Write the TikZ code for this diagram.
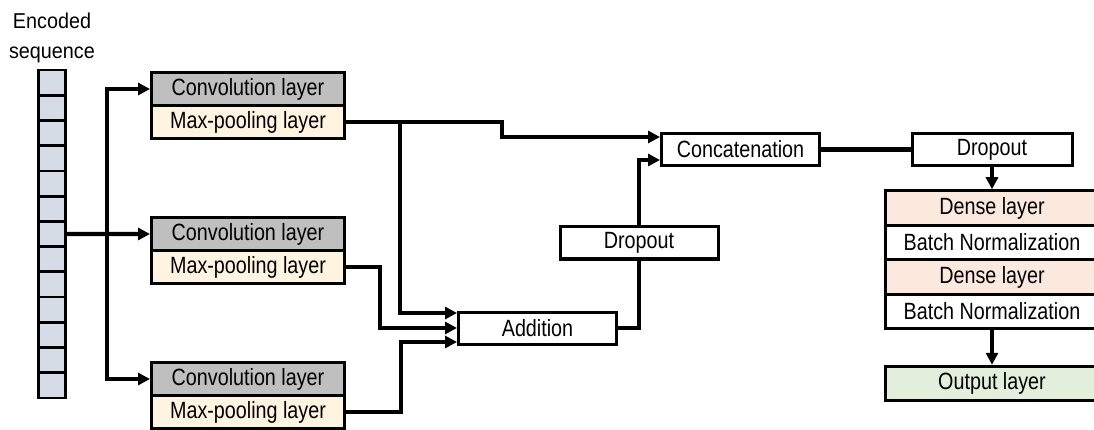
\documentclass[tikz,border=0pt]{standalone}
\usepackage{fontspec}
\setmainfont[FakeStretch=0.84]{Liberation Sans}
\newfontfamily\plainsans[FakeStretch=0.92]{Liberation Sans}
\usetikzlibrary{arrows.meta,calc}
\definecolor{seqfill}{HTML}{D6DCE5}
\definecolor{convfill}{HTML}{BFBFBF}
\definecolor{poolfill}{HTML}{FFF4DF}
\definecolor{densefill}{HTML}{FCE9DE}
\definecolor{outfill}{HTML}{E2EFDA}
\begin{document}
\begin{tikzpicture}[x=1pt,y=-1pt,
  lab/.style={font=\fontsize{23.5}{26}\selectfont},
  box/.style={lab,draw,line width=3pt,inner sep=0pt,minimum height=32pt,fill=white},
  convbox/.style={box,fill=convfill,minimum width=193pt,minimum height=33pt},
  poolbox/.style={box,fill=poolfill,minimum width=193pt,minimum height=33pt},
  opbox/.style={box,minimum width=158pt},
  stackbox/.style={box,minimum width=214pt,minimum height=34.5pt},
  cell/.style={draw,line width=2.8pt,fill=seqfill,minimum width=27pt,minimum height=25.23pt,inner sep=0pt},
  conn/.style={line width=4.2pt},
  arr/.style={conn,-{Triangle[length=12pt,width=12pt]}}
]
\useasboundingbox (0,0) rectangle (1094,430);

% encoded sequence
\node[font=\plainsans\fontsize{21.5}{30}\selectfont,align=center] (title) at (52,38) {Encoded\\sequence};
\foreach \i in {0,...,12}{
  \node[cell] (s\i) at (52,{82.6+25.23*\i}) {};
}

% conv branches
\node[convbox] (conv1) at (248,89) {Convolution layer};
\node[poolbox] (mp1) at (248,122) {Max-pooling layer};
\node[convbox] (conv2) at (248,234) {Convolution layer};
\node[poolbox] (mp2) at (248,267) {Max-pooling layer};
\node[convbox] (conv3) at (248,379) {Convolution layer};
\node[poolbox] (mp3) at (248,412) {Max-pooling layer};

% middle
\node[opbox] (add) at (537.5,328) {Addition};
\node[opbox] (drop1) at (639,243) {Dropout};
\node[opbox] (concat) at (740.5,149.5) {Concatenation};
\node[opbox,minimum width=160pt] (drop2) at (992,149.5) {Dropout};

% stack
\node[stackbox,fill=densefill] (dense1) at (992,208) {Dense layer};
\node[stackbox] (bn1) at (992,242.5) {Batch Normalization};
\node[stackbox,fill=densefill] (dense2) at (992,277) {Dense layer};
\node[stackbox] (bn2) at (992,311.5) {Batch Normalization};
\node[stackbox,fill=outfill] (out) at (992,383.5) {Output layer};

% coordinates
\coordinate (jn) at (107,232.8);
\coordinate (k1) at (502,130);
\coordinate (k2) at (400,122);
\coordinate (k4) at (380,300);
\coordinate (k5) at (401,380);
\coordinate (c1) at ($(concat.west)+(0,-12.5)$);
\coordinate (c2) at ($(concat.west)+(0,10.5)$);
\coordinate (a1) at ($(add.west)+(0,-15)$);
\coordinate (a2) at (add.west);
\coordinate (a3) at ($(add.west)+(0,14)$);

% connectors
\draw[arr] (s6.east) -- (conv2.west);
\draw[arr] (jn) |- (conv1.west);
\draw[arr] (jn) |- (conv3.west);
\draw[arr] (mp1.east) -| (k1) |- (c1);
\draw[arr] (k2) |- (a1);
\draw[arr] (mp2.east) -| (k4) |- (a2);
\draw[arr] (mp3.east) -| (k5) |- (a3);
\draw[conn] (add.east) -| (drop1.south);
\draw[arr] (drop1.north) |- (c2);
\draw[conn] (concat.east) -- (drop2.west);
\draw[arr] (drop2.south) -- (dense1.north);
\draw[arr] (bn2.south) -- (out.north);
\end{tikzpicture}
\end{document}
